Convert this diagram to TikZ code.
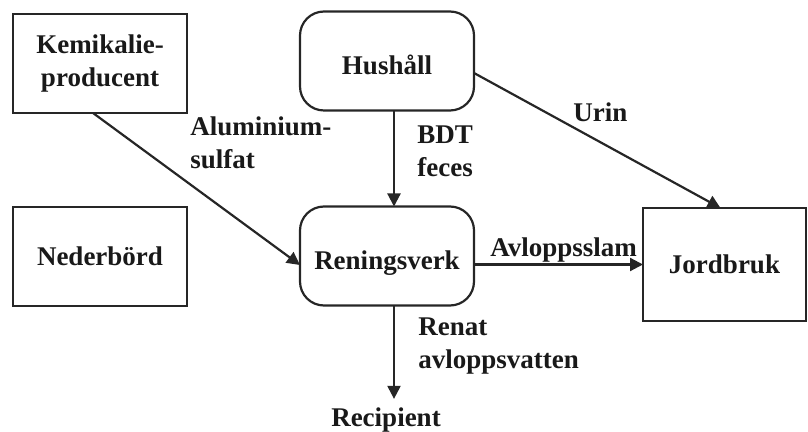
\documentclass[tikz,border=0pt]{standalone}
\usepackage{fontspec}
\setmainfont{Liberation Serif}
\usetikzlibrary{arrows.meta}

\tikzset{
ruta/.style={draw=black!85, line width=1.1pt, minimum width=87pt, minimum height=49.5pt, align=center, outer sep=0pt},
rundruta/.style={ruta, rounded corners=12pt, text height=14pt, text depth=0pt},
flode/.style={draw=black!85, line width=1.1pt, -{Triangle[length=6.5pt,width=6.5pt]}},
etikett/.style={anchor=north west, inner sep=0pt, align=left}
}

\begin{document}
\begin{tikzpicture}[x=0.5pt, y=-0.5pt, font=\bfseries\fontsize{13.5}{16.5}\selectfont, text=black!90]

\useasboundingbox
(0,0)
rectangle
(808,432);

% Rutor
\node[ruta] (kemikalie) at (100,63.5)
{Kemikalie-\\producent};

\node[ruta] (nederbord) at (100,256.5)
{Nederbörd};

\node[rundruta] (hushall) at (387,61)
{Hushåll};

\node[rundruta] (reningsverk) at (387,256)
{Reningsverk};

\node[ruta, minimum width=81.5pt, minimum height=56.5pt] (jordbruk) at (724.5,264.5)
{Jordbruk};

\node[anchor=base, inner sep=4.5pt] (recipient) at (386,427)
{Recipient};

% Flöden
\draw[flode]
([xshift=-3.5pt]kemikalie.south)
--
([yshift=-4.5pt]reningsverk.west);

\draw[flode]
([xshift=3.5pt]hushall.south)
--
([xshift=3.5pt]reningsverk.north);

\draw[flode]
([yshift=-6pt]hushall.east)
--
([xshift=-2pt]jordbruk.north);

\draw[flode]
(jordbruk.west -| reningsverk.east)
--
(jordbruk.west);

\coordinate (utlopp) at ([xshift=3.5pt]reningsverk.south);
\draw[flode]
(utlopp)
--
(utlopp |- recipient.north);

% Etiketter
\node[etikett] (aluminium) at (190,116)
{Aluminium-\\sulfat};

\node[etikett] (bdt) at (417,125)
{BDT\\feces};

\node[etikett] (urin) at (573,102)
{Urin};

\node[etikett] (avloppsslam) at (490,237)
{Avloppsslam};

\node[etikett] (renat) at (418,317)
{Renat\\avloppsvatten};

\end{tikzpicture}
\end{document}
